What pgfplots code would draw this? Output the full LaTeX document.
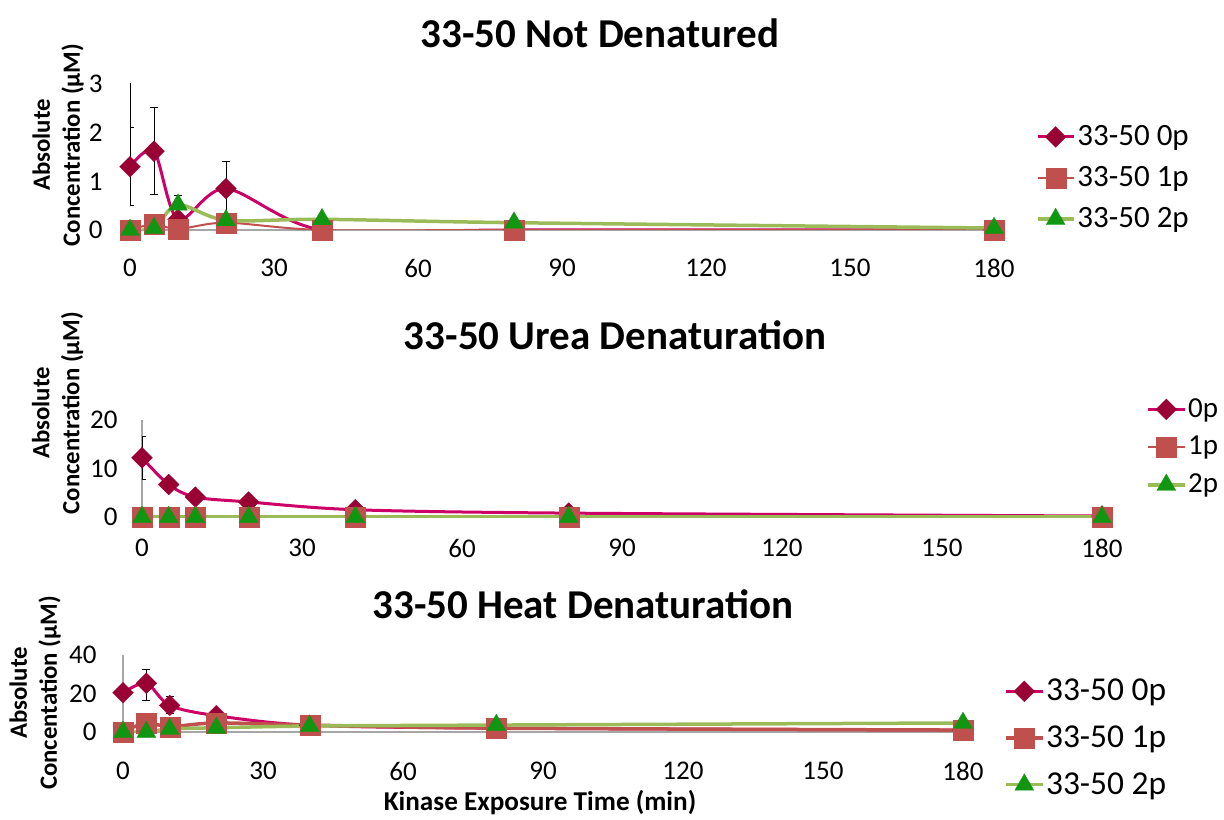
\documentclass[border=0pt]{standalone}
\usepackage{pgfplots}
\pgfplotsset{compat=1.18}
\usepackage{pgfplotstable}
\usepackage{fontspec}
\setmainfont{Carlito}

\definecolor{czl}{RGB}{204,0,102}
\definecolor{czm}{RGB}{153,0,51}
\definecolor{cone}{RGB}{192,80,77}
\definecolor{ctwol}{RGB}{155,187,89}
\definecolor{ctwom}{RGB}{17,150,17}

\pgfplotstableread{
x p0 p1 p2
0 1.30 0.00 0.00
5 1.62 0.12 0.04
10 0.22 0.02 0.52
20 0.85 0.15 0.20
40 0.00 0.00 0.22
80 0.00 0.00 0.15
180 0.00 0.00 0.04
}\tabA
\pgfplotstableread{
x y ep em
0 1.30 0.8 0.8
0 1.30 2.0 0.0
5 1.62 0.9 0.9
10 0.52 0.18 0.18
20 0.85 0.55 0.55
}\errA

\pgfplotstableread{
x p0 p1 p2
0 12.2 0.0 0.0
5 6.7 0.0 0.0
10 4.1 0.0 0.0
20 3.1 0.0 0.0
40 1.5 0.0 0.0
80 0.8 0.0 0.0
180 0.2 0.0 0.0
}\tabB
\pgfplotstableread{
x y ep em
0 12.2 4.5 4.5
}\errB

\pgfplotstableread{
x p0 p1 p2
0 20.4 0.2 0.0
5 25.3 4.7 0.0
10 13.8 2.8 1.6
20 8.5 4.7 2.2
40 3.5 3.6 3.1
80 2.0 2.0 3.6
180 1.0 1.0 4.7
}\tabC
\pgfplotstableread{
x y ep em
5 25.3 7.4 8.7
10 13.8 4.4 4.4
}\errC

\pgfplotsset{
  s0/.style={czl, line width=1.5pt, smooth, mark=square*, mark size=3.7pt,
    mark options={rotate=45, fill=czm, draw=czm, line width=0.1pt, solid}},
  s1/.style={cone, line width=1pt, smooth, mark=square*, mark size=5pt,
    mark options={fill=cone, draw=cone, line width=0.1pt, solid}},
  s2/.style={ctwol, line width=1.75pt, smooth, mark=triangle*, mark size=5.5pt,
    mark options={fill=ctwom, draw=ctwom, line width=0.1pt, solid}},
  eb/.style={only marks, mark=none, forget plot,
    error bars/.cd, y dir=both, y explicit,
    error bar style={black, line width=0.5pt},
    error mark options={rotate=90, black, mark size=2pt, line width=0.5pt}},
  panel/.style={scale only axis, xmin=0, xmax=180, ymin=0,
    xtick={0,30,...,180},
    axis x line*=bottom, axis y line*=left,
    x axis line style={gray!70, line width=0.6pt, -},
    y axis line style={gray!70, line width=0.6pt, -},
    major tick length=0pt,
    tick label style={font=\fontsize{13.5}{13.5}\selectfont, inner sep=0pt},
    xticklabel style={anchor=center},
    yticklabel style={anchor=east},
    /pgf/number format/assume math mode=true,
    legend cell align=left,
    legend image code/.code={\draw[mark repeat=2,mark phase=2,##1] plot coordinates {(0pt,0pt) (9pt,0pt) (18pt,0pt)};},
  },
}

\begin{document}
\begin{tikzpicture}
\useasboundingbox (0,0) rectangle (612pt,409.5pt);

% Panel 1
\begin{axis}[panel, at={(65pt,294.5pt)}, anchor=south west,
  width=432pt, height=73pt, ymax=3, ytick={0,1,2,3},
  y axis line style={draw=none},
  xticklabel style={yshift=-19pt},
  yticklabel style={xshift=-13.5pt},
  legend style={draw=none, fill=none, inner sep=0pt,
    at={(axis description cs:1.048,0.356)}, anchor=west,
    font=\fontsize{15.5}{15.5}\selectfont, row sep=7pt,
    nodes={inner sep=1pt}},
]
\addplot[eb] table[x=x, y=y, y error plus=ep, y error minus=em] {\errA};
\addplot[s0] table[x=x, y=p0] {\tabA};
\addplot[s1] table[x=x, y=p1] {\tabA};
\addplot[s2] table[x=x, y=p2] {\tabA};
\legend{33-50 0p, 33-50 1p, 33-50 2p}
\end{axis}

% Panel 2
\begin{axis}[panel, at={(71pt,151pt)}, anchor=south west,
  width=480pt, height=48.5pt, ymax=20, ytick={0,10,20},
  xticklabel style={yshift=-15.5pt},
  yticklabel style={xshift=-12pt},
  legend style={draw=none, fill=none, inner sep=0pt,
    at={(axis description cs:1.046,0.72)}, anchor=west,
    font=\fontsize{14.5}{14.5}\selectfont, row sep=6pt,
    nodes={inner sep=1pt}},
]
\addplot[eb] table[x=x, y=y, y error plus=ep, y error minus=em] {\errB};
\addplot[s0] table[x=x, y=p0] {\tabB};
\addplot[s1] table[x=x, y=p1] {\tabB};
\addplot[s2] table[x=x, y=p2] {\tabB};
\legend{0p, 1p, 2p}
\end{axis}

% Panel 3
\begin{axis}[panel, at={(61.5pt,43.5pt)}, anchor=south west,
  width=420pt, height=38.5pt, ymax=40, ytick={0,20,40},
  xticklabel style={yshift=-19.5pt},
  yticklabel style={xshift=-13pt},
  legend style={draw=none, fill=none, inner sep=0pt,
    at={(axis description cs:1.049,-0.078)}, anchor=west,
    font=\fontsize{16.7}{16.7}\selectfont, row sep=9pt,
    nodes={inner sep=1pt}},
]
\addplot[eb] table[x=x, y=y, y error plus=ep, y error minus=em] {\errC};
\addplot[s0] table[x=x, y=p0] {\tabC};
\addplot[s1, line width=1.75pt] table[x=x, y=p1] {\tabC};
\addplot[s2] table[x=x, y=p2] {\tabC};
\legend{33-50 0p, 33-50 1p, 33-50 2p}
\end{axis}

% Titles and labels
\node[font=\bfseries\fontsize{20.5}{20.5}\selectfont] at (300pt,393pt) {33-50 Not Denatured};
\node[font=\bfseries\fontsize{20.5}{20.5}\selectfont] at (307.5pt,242pt) {33-50 Urea Denaturation};
\node[font=\bfseries\fontsize{20.5}{20.5}\selectfont] at (291.5pt,107.5pt) {33-50 Heat Denaturation};

\node[rotate=90, align=center, font=\bfseries\fontsize{12.4}{15}\selectfont] at (29pt,337pt) {Absolute\\Concentration (µM)};
\node[rotate=90, align=center, font=\bfseries\fontsize{12.4}{15}\selectfont] at (28.75pt,203pt) {Absolute\\Concentration (µM)};
\node[rotate=90, align=center, font=\bfseries\fontsize{12.4}{15}\selectfont] at (17.5pt,63pt) {Absolute\\Concentation (µM)};

\node[font=\bfseries\fontsize{13.6}{13.6}\selectfont] at (270pt,8pt) {Kinase Exposure Time (min)};
\end{tikzpicture}
\end{document}
